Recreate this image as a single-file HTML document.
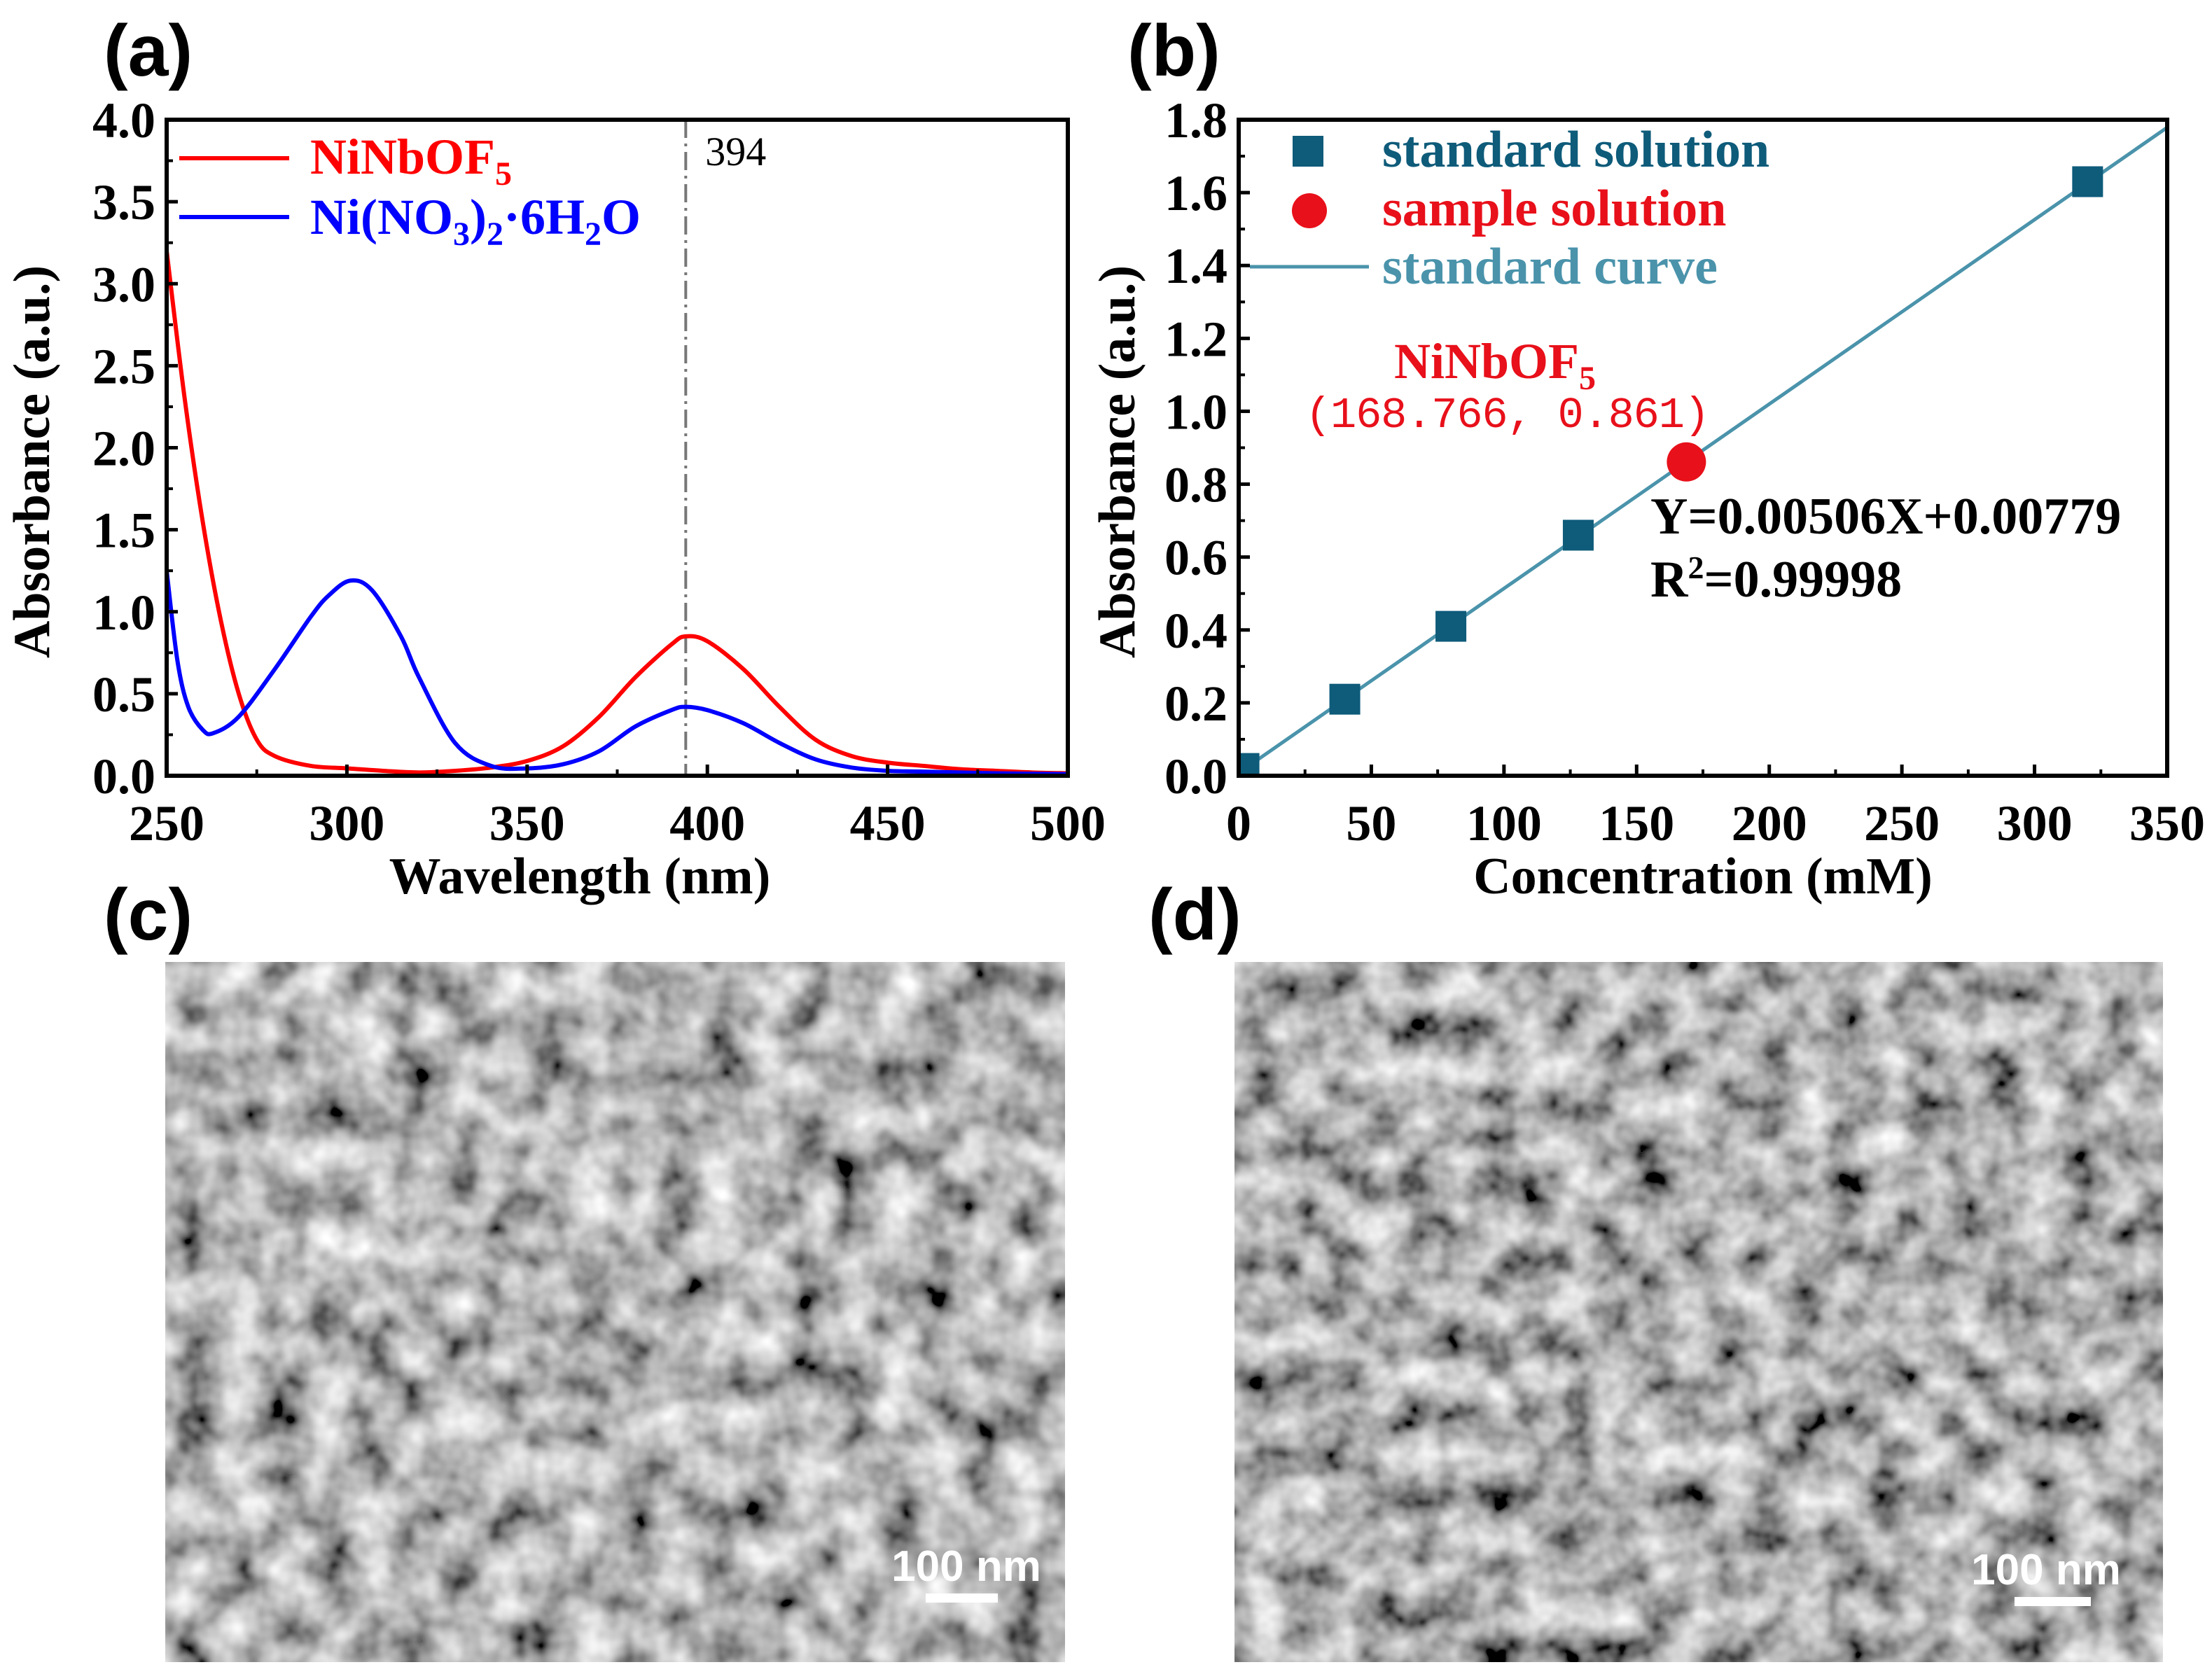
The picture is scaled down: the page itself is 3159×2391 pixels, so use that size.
<!DOCTYPE html>
<html><head><meta charset="utf-8"><style>
html,body{margin:0;padding:0;background:#fff}
svg{display:block}
.sf{font-family:"Liberation Serif",serif;font-weight:bold}
.pl{font-family:"Liberation Sans","DejaVu Sans",sans-serif;font-weight:bold;font-size:104px}
.sb{font-family:"Liberation Sans","DejaVu Sans",sans-serif;font-weight:bold;font-size:62px;fill:#fff}
</style></head><body>
<svg id="fig" width="3159" height="2391" viewBox="0 0 3159 2391" xmlns="http://www.w3.org/2000/svg">
<defs>
<filter id="semC" x="0" y="0" width="100%" height="100%">
<feTurbulence type="fractalNoise" baseFrequency="0.016" numOctaves="3" seed="3" result="n"/>
<feColorMatrix in="n" type="matrix" values="1.45 0 0 0 -0.26  1.45 0 0 0 -0.26  1.45 0 0 0 -0.26  0 0 0 0 1"/>
</filter>
<filter id="semD" x="0" y="0" width="100%" height="100%">
<feTurbulence type="fractalNoise" baseFrequency="0.018" numOctaves="3" seed="11" result="n"/>
<feColorMatrix in="n" type="matrix" values="1.35 0 0 0 -0.24  1.35 0 0 0 -0.24  1.35 0 0 0 -0.24  0 0 0 0 1"/>
</filter>
</defs>
<g id="gA" class="sf"></g>
<g id="gB" class="sf"></g>
<text class="pl" x="148" y="108">(a)</text>
<text class="pl" x="1610" y="108">(b)</text>
<text class="pl" x="148" y="1342">(c)</text>
<text class="pl" x="1640" y="1342">(d)</text>
<g>
<rect x="236" y="1374" width="1285" height="1000" fill="#808080" filter="url(#semC)"/>
<text class="sb" x="1380" y="2258" text-anchor="middle">100 nm</text>
<rect x="1322" y="2276" width="103" height="13" fill="#fff"/>
</g>
<g>
<rect x="1763" y="1374" width="1326" height="1000" fill="#808080" filter="url(#semD)"/>
<text class="sb" x="2922" y="2263" text-anchor="middle">100 nm</text>
<rect x="2877" y="2281" width="109" height="13" fill="#fff"/>
</g>
</svg>
<script>
const NS="http://www.w3.org/2000/svg";
// ---- Panel A data ----
const wlRed=[250,255,260,265,270,275,280,290,300,310,320,330,340,350,360,370,380,390,394,400,410,420,430,440,450,460,470,480,490,500];
const absRed=[3.2,2.3,1.55,0.95,0.5,0.22,0.12,0.06,0.045,0.03,0.02,0.03,0.05,0.09,0.18,0.36,0.6,0.8,0.85,0.82,0.65,0.42,0.22,0.12,0.08,0.06,0.04,0.03,0.02,0.015];
const wlBlue=[250,253,256,260,263,270,280,290,295,301,307,315,320,330,340,350,360,370,380,390,394,400,410,420,430,440,450,460,480,500];
const absBlue=[1.25,0.7,0.42,0.28,0.26,0.36,0.65,0.97,1.1,1.19,1.13,0.85,0.6,0.2,0.06,0.045,0.07,0.15,0.3,0.4,0.42,0.4,0.32,0.2,0.1,0.05,0.03,0.025,0.015,0.01];
const aXTicks=[250,300,350,400,450,500];
const aYTicks=[0,0.5,1.0,1.5,2.0,2.5,3.0,3.5,4.0];
const peakLine=[394];
// ---- Panel B data ----
const concStd=[2,40,80,128,320];
const absStd=[0.02,0.21,0.41,0.66,1.63];
const concSample=[168.766];
const absSample=[0.861];
const fitSlope=[0.00506];
const fitIntercept=[0.00779];
const bXTicks=[0,50,100,150,200,250,300,350];
const bYTicks=[0,0.2,0.4,0.6,0.8,1.0,1.2,1.4,1.6,1.8];

function el(p,tag,attrs,txt){const e=document.createElementNS(NS,tag);for(const k in attrs)e.setAttribute(k,attrs[k]);if(txt!=null)e.textContent=txt;p.appendChild(e);return e;}
function smooth(pts){let d=`M${pts[0][0]},${pts[0][1]}`;for(let i=0;i<pts.length-1;i++){const p0=pts[i-1]||pts[i],p1=pts[i],p2=pts[i+1],p3=pts[i+2]||p2;const c1x=p1[0]+(p2[0]-p0[0])/6,c1y=p1[1]+(p2[1]-p0[1])/6,c2x=p2[0]-(p3[0]-p1[0])/6,c2y=p2[1]-(p3[1]-p1[1])/6;d+=`C${c1x},${c1y} ${c2x},${c2y} ${p2[0]},${p2[1]}`;}return d;}

function axes(g,L,R,T,B,xs,ys,xT,yT){
  el(g,'rect',{x:L,y:T,width:R-L,height:B-T,fill:'none',stroke:'#000','stroke-width':6});
  xT.forEach(v=>{const x=xs(v);
    el(g,'line',{x1:x,x2:x,y1:B,y2:B-16,stroke:'#000','stroke-width':5});
    const lb=el(g,'text',{x:x,y:B+92,'text-anchor':'middle','font-size':72},String(v));
    
    });
  for(let i=0;i<xT.length-1;i++){const x=(xs(xT[i])+xs(xT[i+1]))/2;el(g,'line',{x1:x,x2:x,y1:B,y2:B-9,stroke:'#000','stroke-width':4});}
  yT.forEach(v=>{const y=ys(v);
    el(g,'line',{x1:L,x2:L+16,y1:y,y2:y,stroke:'#000','stroke-width':5});
    const lb=el(g,'text',{x:L-16,y:y+25,'text-anchor':'end','font-size':72},v.toFixed(1));
    
    });
  for(let i=0;i<yT.length-1;i++){const y=(ys(yT[i])+ys(yT[i+1]))/2;el(g,'line',{x1:L,x2:L+9,y1:y,y2:y,stroke:'#000','stroke-width':4});}
}

// Panel A
(function(){
  const g=document.getElementById('gA');
  const L=238,R=1525,T=171,B=1108;
  const xs=v=>L+(v-250)/250*(R-L), ys=v=>B-v/4*(B-T);
  const cp=el(g,'clipPath',{id:'clipA'});el(cp,'rect',{x:L,y:T,width:R-L,height:B-T});
  const px=xs(peakLine[0]);
  const pl=el(g,'line',{x1:px,x2:px,y1:T,y2:B,stroke:'#777','stroke-width':4,'stroke-dasharray':'26 8 4 8'});
  
  
  const pt=el(g,'text',{x:px+28,y:236,'font-size':58,style:'font-weight:normal'},String(peakLine[0]));
  
  
  const r=el(g,'path',{d:smooth(wlRed.map((w,i)=>[xs(w),ys(absRed[i])])),fill:'none',stroke:'#ff0000','stroke-width':6,'clip-path':'url(#clipA)'});
  
  
  const b=el(g,'path',{d:smooth(wlBlue.map((w,i)=>[xs(w),ys(absBlue[i])])),fill:'none',stroke:'#0000ff','stroke-width':6,'clip-path':'url(#clipA)'});
  
  
  axes(g,L,R,T,B,xs,ys,aXTicks,aYTicks);
  const lg=el(g,'g',{});
  
  
  el(lg,'line',{x1:256,x2:413,y1:226,y2:226,stroke:'#ff0000','stroke-width':6});
  const t1=el(lg,'text',{x:443,y:248,'font-size':72,fill:'#ff0000'});
  t1.innerHTML='NiNbOF<tspan dy="16" font-size="48">5</tspan>';
  el(lg,'line',{x1:256,x2:413,y1:310,y2:310,stroke:'#0000ff','stroke-width':6});
  const t2=el(lg,'text',{x:443,y:334,'font-size':72,fill:'#0000ff'});
  t2.innerHTML='Ni(NO<tspan dy="16" font-size="48">3</tspan><tspan dy="-16">)</tspan><tspan dy="16" font-size="48">2</tspan><tspan dy="-16">·6H</tspan><tspan dy="16" font-size="48">2</tspan><tspan dy="-16">O</tspan>';
  const xt=el(g,'text',{x:828,y:1276,'text-anchor':'middle','font-size':74},'Wavelength (nm)');
  
  
  const yt=el(g,'text',{x:0,y:0,'text-anchor':'middle','font-size':74,transform:`translate(70,${(T+B)/2+20}) rotate(-90)`},'Absorbance (a.u.)');
  
  
})();

// Panel B
(function(){
  const g=document.getElementById('gB');
  const L=1769,R=3095,T=171,B=1108;
  const xs=v=>L+v/350*(R-L), ys=v=>B-v/1.8*(B-T);
  const cp=el(g,'clipPath',{id:'clipB'});el(cp,'rect',{x:L,y:T,width:R-L,height:B-T});
  const fl=el(g,'line',{x1:xs(0),y1:ys(fitIntercept[0]),x2:xs(350),y2:ys(fitSlope[0]*350+fitIntercept[0]),stroke:'#4a93ab','stroke-width':5,'clip-path':'url(#clipB)'});
  
  
  concStd.forEach((c,i)=>{const s=44;
    const m=el(g,'rect',{x:xs(c)-s/2,y:ys(absStd[i])-s/2,width:s,height:s,fill:'#0e5b7a','clip-path':'url(#clipB)'});
    
    });
  concSample.forEach((c,i)=>{
    const m=el(g,'circle',{cx:xs(c),cy:ys(absSample[i]),r:28,fill:'#e8101a'});
    
    });
  axes(g,L,R,T,B,xs,ys,bXTicks,bYTicks);
  const lg=el(g,'g',{});
  
  
  el(lg,'rect',{x:1846,y:194,width:44,height:44,fill:'#0e5b7a'});
  el(lg,'text',{x:1974,y:238,'font-size':74,fill:'#0e5b7a'},'standard solution');
  el(lg,'circle',{cx:1870,cy:301,r:25,fill:'#e8101a'});
  el(lg,'text',{x:1974,y:322,'font-size':74,fill:'#e8101a'},'sample solution');
  el(lg,'line',{x1:1785,x2:1955,y1:381,y2:381,stroke:'#4a93ab','stroke-width':5});
  el(lg,'text',{x:1974,y:405,'font-size':74,fill:'#4a93ab'},'standard curve');
  const a1=el(g,'text',{x:2135,y:540,'text-anchor':'middle','font-size':72,fill:'#e8101a'});
  a1.innerHTML='NiNbOF<tspan dy="16" font-size="48">5</tspan>';
  
  
  const a2=el(g,'text',{x:2153,y:610,'text-anchor':'middle','font-size':62,fill:'#e8101a',textLength:578,style:'font-weight:normal;font-family:"Liberation Mono","Noto Sans CJK SC",monospace'},'(168.766,  0.861)');
  
  
  const e1=el(g,'text',{x:2357,y:762,'font-size':74},'Y=0.00506X+0.00779');
  
  
  const e2=el(g,'text',{x:2357,y:852,'font-size':74});
  e2.innerHTML='R<tspan dy="-26" font-size="46">2</tspan><tspan dy="26">=0.99998</tspan>';
  
  
  const xt=el(g,'text',{x:(L+R)/2,y:1276,'text-anchor':'middle','font-size':74},'Concentration (mM)');
  
  
  const yt=el(g,'text',{x:0,y:0,'text-anchor':'middle','font-size':74,transform:`translate(1620,${(T+B)/2+20}) rotate(-90)`},'Absorbance (a.u.)');
  
  
})();
</script>
</body></html>
